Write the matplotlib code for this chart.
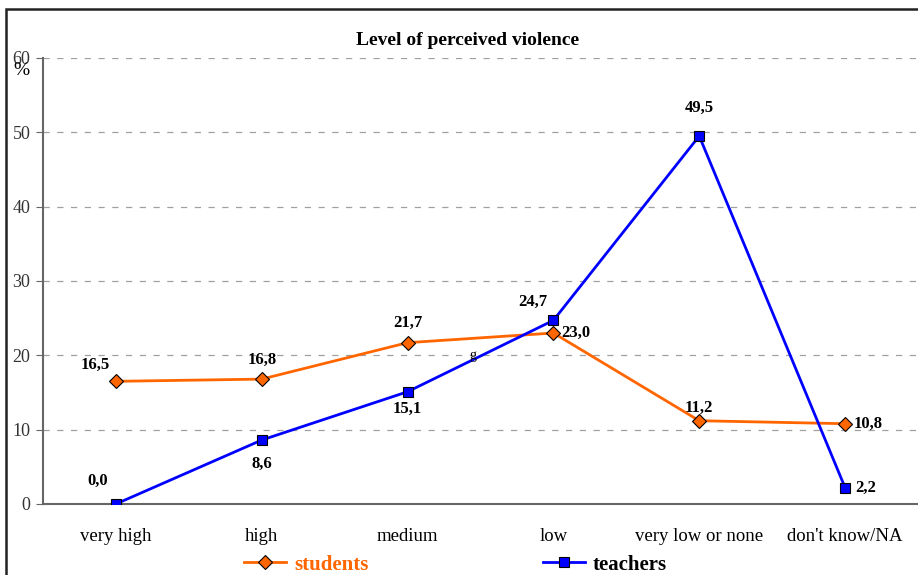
import matplotlib
matplotlib.use("Agg")
import matplotlib.pyplot as plt
from matplotlib.patches import Rectangle
from matplotlib.lines import Line2D

categories = ["very high", "high", "medium", "low", "very low or none", "don't know/NA"]
students = [16.5, 16.8, 21.7, 23.0, 11.2, 10.8]
teachers = [0.0, 8.6, 15.1, 24.7, 49.5, 2.2]

# label offsets in points (dx, dy) and alignment
stud_off = [(-4, 12, "right"), (0, 14, "center"), (0, 14, "center"),
            (6, 0, "left"), (0, 9, "center"), (6, 0, "left")]
teach_off = [(-6, 17, "right"), (0, -17, "center"), (0, -12, "center"),
             (-4, 13, "right"), (0, 20, "center"), (7, 0, "left")]

plt.rcParams['font.family'] = ['Liberation Serif', 'DejaVu Serif']

fig = plt.figure(figsize=(9.18, 5.75), dpi=100)
ax = fig.add_axes([0.0468, 0.1235, 0.9532, 0.7757])

x = [i + 0.5 for i in range(len(categories))]
ax.plot(x, students, color="#FF6600", lw=2, marker="D", ms=7.5,
        mfc="#FF6600", mec="black", mew=0.8, zorder=3)
ax.plot(x, teachers, color="#0000FF", lw=2, marker="s", ms=7,
        mfc="#0000FF", mec="black", mew=0.8, zorder=3)

for xi, v, (dx, dy, ha) in zip(x, students, stud_off):
    ax.annotate(f"{v:.1f}".replace(".", ","), (xi, v), xytext=(dx, dy),
                textcoords="offset points", ha=ha, va="center",
                fontsize=12, fontweight="bold")
for xi, v, (dx, dy, ha) in zip(x, teachers, teach_off):
    ax.annotate(f"{v:.1f}".replace(".", ","), (xi, v), xytext=(dx, dy),
                textcoords="offset points", ha=ha, va="center",
                fontsize=12, fontweight="bold")

ax.text(2.95, 20.0, "g", fontsize=10, ha="center", va="center")

ax.set_xlim(0, 6)
ax.set_ylim(0, 60)
ax.set_yticks(range(0, 61, 10))
ax.set_xticks(x)
ax.set_xticklabels(categories)
ax.tick_params(axis="x", length=0, pad=17, labelsize=13.5)
ax.tick_params(axis="y", length=5, color="#666666", labelsize=13, pad=4)
for t in ax.get_yticklabels():
    t.set_color("#333333")
ax.yaxis.grid(True, ls=(0, (5, 6)), color="#A0A0A0", lw=0.9)
ax.set_axisbelow(True)
for s in ["top", "right"]:
    ax.spines[s].set_visible(False)
ax.spines["left"].set_color("#666666")
ax.spines["bottom"].set_color("#666666")
ax.spines["left"].set_linewidth(1.5)
ax.spines["bottom"].set_linewidth(1.5)

fig.text(0.509, 0.929, "Level of perceived violence", ha="center", va="center",
         fontsize=14, fontweight="bold")
fig.text(0.023, 0.878, "%", ha="center", va="center", fontsize=14)

h1 = Line2D([], [], color="#FF6600", lw=2, marker="D", ms=7.5,
            mfc="#FF6600", mec="black", mew=0.8)
h2 = Line2D([], [], color="#0000FF", lw=2, marker="s", ms=7,
            mfc="#0000FF", mec="black", mew=0.8)
leg1 = fig.legend([h1], ["students"], loc="center", bbox_to_anchor=(0.334, 0.018),
                  frameon=False, handlelength=2, handletextpad=0.4,
                  prop={"size": 15, "weight": "bold"})
for t in leg1.get_texts():
    t.set_color("#FF6600")
leg2 = fig.legend([h2], ["teachers"], loc="center", bbox_to_anchor=(0.659, 0.018),
                  frameon=False, handlelength=2, handletextpad=0.4,
                  prop={"size": 15, "weight": "bold"})

fig.patches.append(Rectangle((0.0065, -0.05), 1.2, 1.0343, transform=fig.transFigure,
                             fill=False, ec="#222222", lw=1.8))

fig.savefig("out.png", dpi=100)
